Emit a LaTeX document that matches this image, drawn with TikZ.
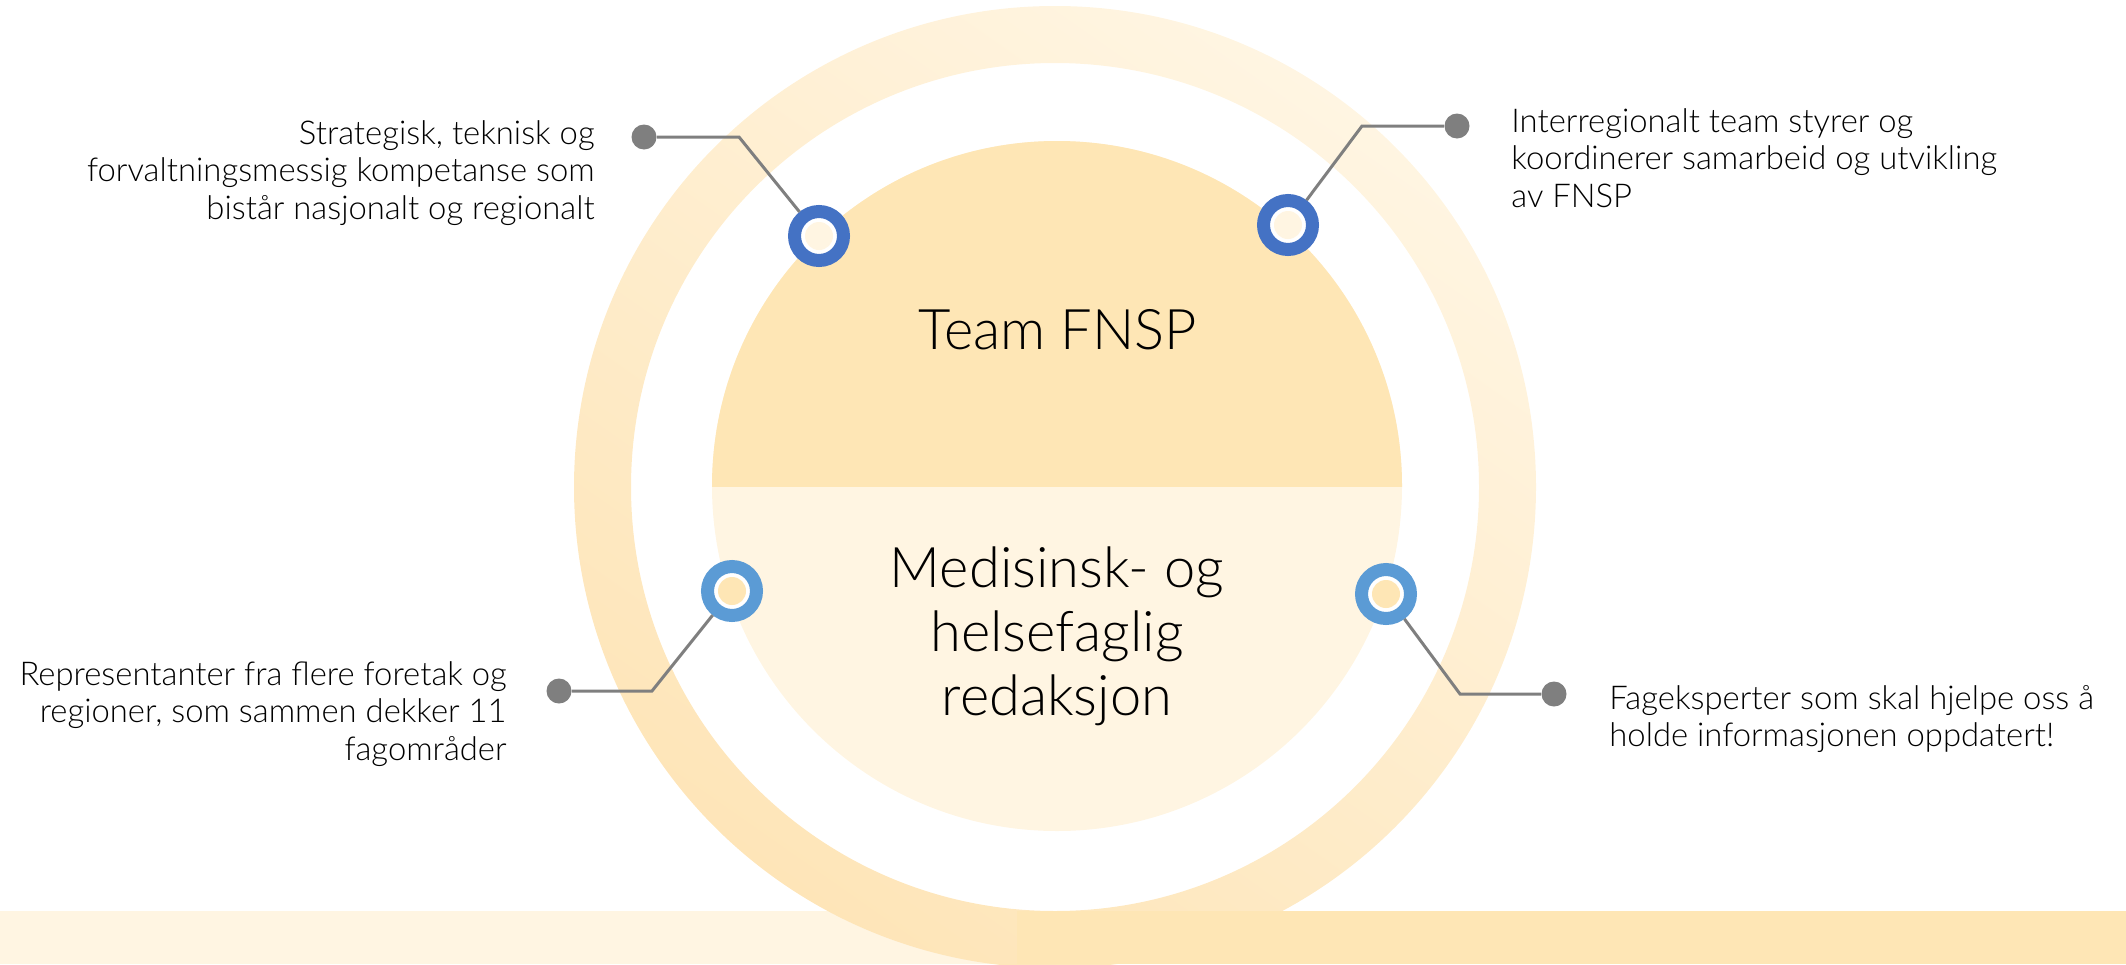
\documentclass[tikz,border=0pt]{standalone}
\usepackage{fontspec}
\setmainfont{Lato Light}
\definecolor{creamlight}{HTML}{FFF5E2}
\definecolor{creamdark}{HTML}{FEE6B5}
\definecolor{ringdark}{HTML}{FEE5B8}
\definecolor{blueA}{HTML}{4472C4}
\definecolor{blueB}{HTML}{5B9BD5}
\definecolor{wire}{HTML}{7F7F7F}
\begin{document}
\begin{tikzpicture}[x=0.5pt,y=-0.5pt,
    dot/.style={circle,fill=wire,inner sep=0pt,minimum size=12.5pt},
    marker/.style 2 args={circle,draw=#1,line width=6.5pt,outer sep=3.25pt,fill=white,
      inner sep=0pt,minimum size=24.5pt,
      path picture={\fill[#2] (path picture bounding box.center) circle (7pt);}},
    side/.style={font=\fontsize{16.4}{18.75}\selectfont,inner sep=0pt},
    big/.style={font=\fontsize{28}{32}\selectfont,inner sep=0pt,align=center}]
      \useasboundingbox (0,0) rectangle (2126,964);
      \clip (0,0) rectangle (2126,964);
      % band and rings
      \fill[creamlight] (0,911) rectangle (2126,964);
      \shade[even odd rule,top color=creamlight,bottom color=ringdark,shading angle=-35]
        (1055,487) circle (481) (1055,487) circle (424);
      \fill[creamlight] (1057,486) circle (345);
      \begin{scope}
        \clip (0,0) rectangle (2126,486);
        \fill[creamdark] (1057,486) circle (345);
      \end{scope}
      \fill[creamdark] (1017,911) rectangle (2126,964);
      % markers
      \node[marker={blueA}{creamlight}] (m1) at (819,236) {};
      \node[marker={blueA}{creamlight}] (m2) at (1288,225) {};
      \node[marker={blueB}{creamdark}] (m3) at (732,591) {};
      \node[marker={blueB}{creamdark}] (m4) at (1386,594) {};
      \node[dot] (d1) at (644,137) {};
      \node[dot] (d2) at (1457,126) {};
      \node[dot] (d3) at (559,691) {};
      \node[dot] (d4) at (1554,694) {};
      \coordinate (b1) at (739,137);
      \coordinate (b2) at (1362,126);
      \coordinate (b3) at (652,691);
      \coordinate (b4) at (1460,694);
      \begin{scope}[wire,line width=1.5pt]
        \draw (d1) to (b1) to (m1);
        \draw (d2) to (b2) to (m2);
        \draw (d3) to (b3) to (m3);
        \draw (d4) to (b4) to (m4);
      \end{scope}
      % texts
      \node[side,anchor=north east,align=right] (t1) at (595,120)
        {Strategisk, teknisk og\\forvaltningsmessig kompetanse som\\bistår nasjonalt og regionalt};
      \node[side,anchor=north west,align=left] (t2) at (1511,108)
        {Interregionalt team styrer og\\koordinerer samarbeid og utvikling\\av FNSP};
      \node[side,anchor=north east,align=right] (t3) at (507,661)
        {Representanter fra flere foretak og\\regioner, som sammen dekker 11\\fagområder};
      \node[side,anchor=north west,align=left] (t4) at (1609,685)
        {Fageksperter som skal hjelpe oss å\\holde informasjonen oppdatert!};
      \node[big] (team) at (1058,330) {Team FNSP};
      \node[big,anchor=north] (red) at (1057,546) {Medisinsk- og\\helsefaglig\\redaksjon};
    \end{tikzpicture}
\end{document}
